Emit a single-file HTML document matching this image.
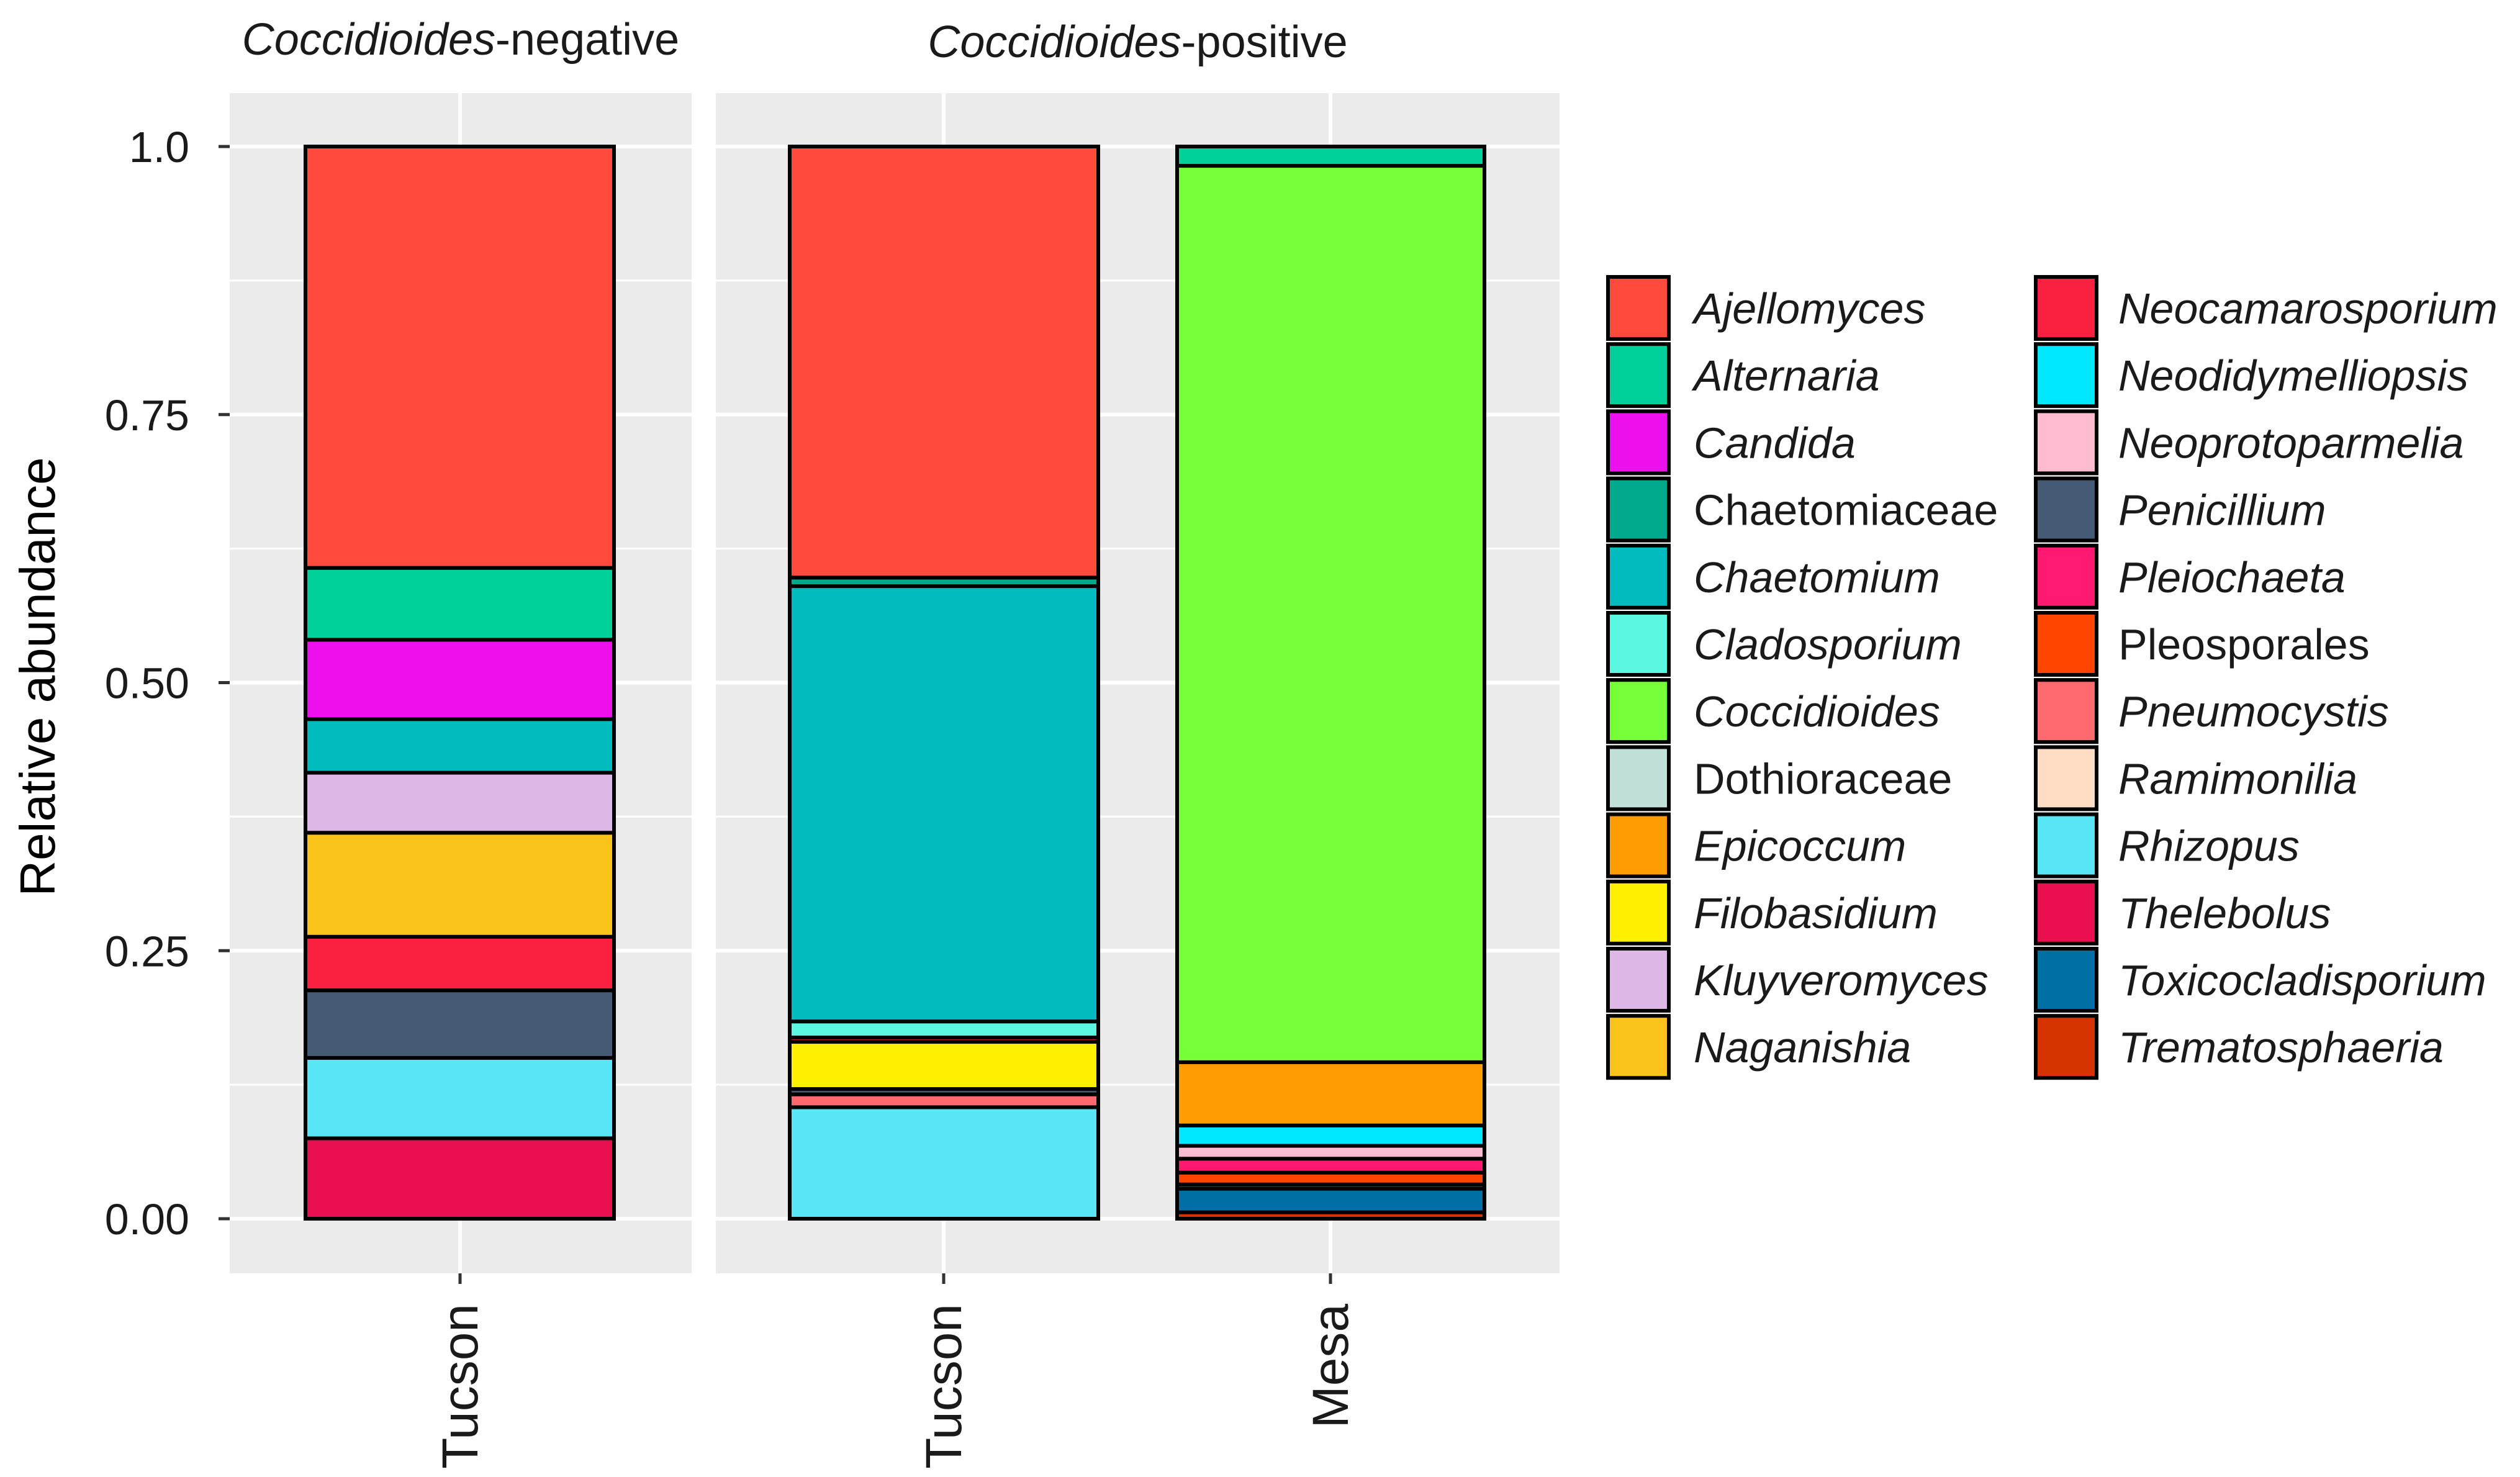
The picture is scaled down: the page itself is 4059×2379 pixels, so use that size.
<!DOCTYPE html>
<html><head><meta charset="utf-8"><style>
html,body{margin:0;padding:0;background:#fff;}
svg{display:block;font-family:"Liberation Sans",Arial,sans-serif;}
</style></head><body>
<svg id="c" width="4059" height="2379" viewBox="0 0 4059 2379" xmlns="http://www.w3.org/2000/svg"></svg>
<script>
const genera = ["Ajellomyces","Alternaria","Candida","Chaetomiaceae","Chaetomium","Cladosporium","Coccidioides","Dothioraceae","Epicoccum","Filobasidium","Kluyveromyces","Naganishia","Neocamarosporium","Neodidymelliopsis","Neoprotoparmelia","Penicillium","Pleiochaeta","Pleosporales","Pneumocystis","Ramimonilia","Rhizopus","Thelebolus","Toxicocladisporium","Trematosphaeria"];
const italicFlags = [1,1,1,0,1,1,1,0,1,1,1,1,1,1,1,1,1,0,1,1,1,1,1,1];
const colors = {"Ajellomyces":"#FF4A3D","Alternaria":"#00D19A","Candida":"#EE11EE","Chaetomiaceae":"#00A98B","Chaetomium":"#00BCBE","Cladosporium":"#5CF7E0","Coccidioides":"#77FF38","Dothioraceae":"#C1E0DA","Epicoccum":"#FF9C00","Filobasidium":"#FFF000","Kluyveromyces":"#DDB8E6","Naganishia":"#F8C41A","Neocamarosporium":"#F9213F","Neodidymelliopsis":"#00E8FF","Neoprotoparmelia":"#FFBBD0","Penicillium":"#455A75","Pleiochaeta":"#FF1A6F","Pleosporales":"#FF4500","Pneumocystis":"#FF6A6F","Ramimonilia":"#FFDCC4","Rhizopus":"#58E6F5","Thelebolus":"#E8104F","Toxicocladisporium":"#006FA6","Trematosphaeria":"#D63300"};
const yTicks = [0,0.25,0.5,0.75,1.0];
const yTickLabels = ["0.00","0.25","0.50","0.75","1.0"];
// stacks, bottom to top
const negTucsonTaxa = ["Thelebolus","Rhizopus","Penicillium","Neocamarosporium","Naganishia","Kluyveromyces","Chaetomium","Candida","Alternaria","Ajellomyces"];
const negTucsonVals = [0.075,0.075,0.063,0.050,0.097,0.056,0.050,0.074,0.067,0.393];
const posTucsonTaxa = ["Rhizopus","Pneumocystis","Penicillium","Filobasidium","Neocamarosporium","Cladosporium","Chaetomium","Chaetomiaceae","Ajellomyces"];
const posTucsonVals = [0.104,0.012,0.005,0.044,0.004,0.015,0.406,0.008,0.402];
const posMesaTaxa = ["Trematosphaeria","Toxicocladisporium","Penicillium","Pleosporales","Pleiochaeta","Neoprotoparmelia","Neodidymelliopsis","Epicoccum","Coccidioides","Alternaria"];
const posMesaVals = [0.006,0.022,0.004,0.011,0.013,0.012,0.019,0.059,0.836,0.018];

const NS="http://www.w3.org/2000/svg";
const svg=document.getElementById('c');
function mk(tag,attrs,parent){const e=document.createElementNS(NS,tag);for(const k in attrs)e.setAttribute(k,attrs[k]);(parent||svg).appendChild(e);return e;}
const Y0=1963, Y1=236;
function yS(v){return Y0-(Y0-Y1)*v;}

const panels=[{x:370,w:744,title:"negative",cx:[741]},{x:1153,w:1359,title:"positive",cx:[1520,2143]}];
panels.forEach((p,i)=>{
  const r=mk('rect',{x:p.x,y:150,width:p.w,height:1901,fill:'#EBEBEB'});
  
  
  [0.125,0.375,0.625,0.875].forEach(v=>{const l=mk('line',{x1:p.x,x2:p.x+p.w,y1:yS(v),y2:yS(v),stroke:'#fff','stroke-width':3});});
  yTicks.forEach(v=>{const l=mk('line',{x1:p.x,x2:p.x+p.w,y1:yS(v),y2:yS(v),stroke:'#fff','stroke-width':6});});
  p.cx.forEach(c=>{const l=mk('line',{x1:c,x2:c,y1:150,y2:2051,stroke:'#fff','stroke-width':6});
    const t=mk('line',{x1:c,x2:c,y1:2051,y2:2068,stroke:'#333','stroke-width':5});});
  const st=mk('text',{x:p.x+p.w/2,y:i==0?88:92,'text-anchor':'middle','font-size':72,fill:'#1a1a1a'});
  
  
  st.innerHTML='<tspan font-style="italic">Coccidioides</tspan>-'+p.title;
});

function drawBar(x,w,taxa,vals,name){
  let cum=0;
  taxa.forEach((t,k)=>{
    const a=cum,b=cum+vals[k];cum=b;
    const r=mk('rect',{x:x,y:yS(b),width:w,height:yS(a)-yS(b),fill:colors[t],stroke:'#000','stroke-width':6});
    
    
  });
}
drawBar(492,497,negTucsonTaxa,negTucsonVals,'bar-neg-tucson');
drawBar(1272,497,posTucsonTaxa,posTucsonVals,'bar-pos-tucson');
drawBar(1896,495,posMesaTaxa,posMesaVals,'bar-pos-mesa');

yTicks.forEach((v,i)=>{
  const t=mk('line',{x1:352,x2:370,y1:yS(v),y2:yS(v),stroke:'#333','stroke-width':5});
  
  
  const l=mk('text',{x:305,y:yS(v)+25,'text-anchor':'end','font-size':70,fill:'#1a1a1a'});
  
  
  l.textContent=yTickLabels[i];
});
const yt=mk('text',{x:0,y:0,transform:'translate(88,1090) rotate(-90)','text-anchor':'middle','font-size':80,fill:'#000'});


yt.textContent='Relative abundance';

[[741,'Tucson'],[1520,'Tucson'],[2143,'Mesa']].forEach(([c,s])=>{
  const t=mk('text',{x:0,y:0,transform:`translate(${c+28},2100) rotate(-90)`,'text-anchor':'end','font-size':82,fill:'#1a1a1a'});
  
  
  t.textContent=s;
});

genera.forEach((g,i)=>{
  const col=i<12?0:1,row=i%12;
  const kx=col?3279:2590, lx=col?3412:2728, ky=446+row*108.2;
  const k=mk('rect',{x:kx,y:ky,width:98,height:100,fill:colors[g],stroke:'#000','stroke-width':6});
  
  
  const t=mk('text',{x:lx,y:ky+75,'font-size':70,fill:'#1a1a1a','font-style':italicFlags[i]?'italic':'normal'});
  
  
  t.textContent=g;
});
</script>
</body></html>
